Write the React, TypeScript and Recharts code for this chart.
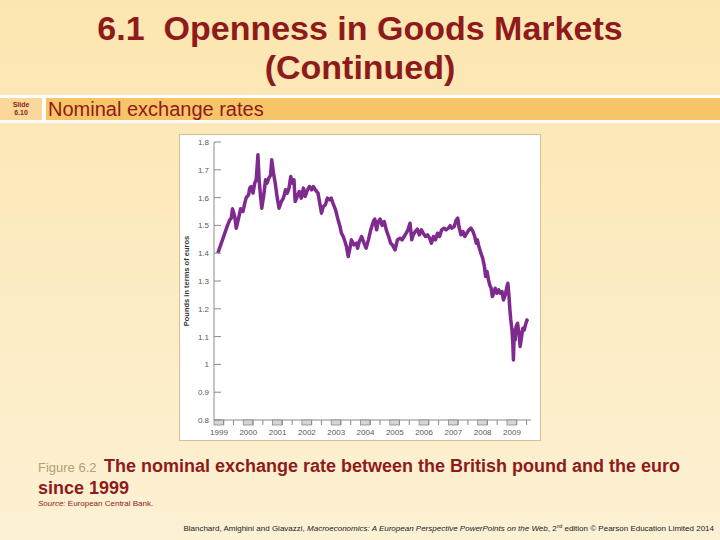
import { LineChart, Line, XAxis, YAxis } from 'recharts';

// Pounds in terms of euros (decimal year, rate)
const dates = [
  1999.13, 1999.25, 1999.37, 1999.46, 1999.54, 1999.59, 1999.63, 1999.71, 1999.76, 1999.84,
  1999.91, 1999.99, 2000.05, 2000.1, 2000.18, 2000.22, 2000.27, 2000.33, 2000.39, 2000.44,
  2000.5, 2000.54, 2000.59, 2000.63, 2000.7, 2000.76, 2000.81, 2000.87, 2000.93, 2000.97,
  2001.03, 2001.09, 2001.16, 2001.22, 2001.3, 2001.37, 2001.44, 2001.5, 2001.56, 2001.62,
  2001.67, 2001.73, 2001.77, 2001.84, 2001.91, 2001.98, 2002.05, 2002.11, 2002.19, 2002.26,
  2002.33, 2002.39, 2002.46, 2002.55, 2002.62, 2002.67, 2002.73, 2002.8, 2002.87, 2002.95,
  2003.0, 2003.06, 2003.15, 2003.22, 2003.3, 2003.35, 2003.41, 2003.47, 2003.52, 2003.58,
  2003.64, 2003.69, 2003.77, 2003.86, 2003.9, 2003.96, 2004.04, 2004.12, 2004.19, 2004.27,
  2004.35, 2004.44, 2004.49, 2004.55, 2004.61, 2004.67, 2004.74, 2004.81, 2004.88, 2004.96,
  2005.03, 2005.09, 2005.18, 2005.26, 2005.35, 2005.42, 2005.49, 2005.56, 2005.62, 2005.69,
  2005.75, 2005.8, 2005.87, 2005.94, 2006.01, 2006.08, 2006.14, 2006.22, 2006.29, 2006.36,
  2006.42, 2006.49, 2006.56, 2006.63, 2006.7, 2006.77, 2006.85, 2006.92, 2007.0, 2007.06,
  2007.12, 2007.2, 2007.27, 2007.32, 2007.36, 2007.43, 2007.5, 2007.56, 2007.63, 2007.7,
  2007.77, 2007.84, 2007.9, 2007.95, 2007.99, 2008.04, 2008.11, 2008.17, 2008.23, 2008.27,
  2008.32, 2008.37, 2008.41, 2008.46, 2008.5, 2008.55, 2008.6, 2008.66, 2008.72, 2008.77,
  2008.83, 2008.88, 2008.94, 2009.0, 2009.03, 2009.07, 2009.1, 2009.13, 2009.17, 2009.2,
  2009.22, 2009.25, 2009.28, 2009.31, 2009.36, 2009.41, 2009.45, 2009.5, 2009.54, 2009.59,
  2009.63, 2009.68, 2009.7,
];
const rates = [
  1.4, 1.436, 1.472, 1.5, 1.52, 1.526, 1.56, 1.53, 1.49, 1.526,
  1.56, 1.55, 1.58, 1.6, 1.61, 1.634, 1.64, 1.616, 1.652, 1.664,
  1.754, 1.664, 1.604, 1.562, 1.61, 1.664, 1.652, 1.67, 1.68, 1.736,
  1.688, 1.652, 1.598, 1.562, 1.586, 1.598, 1.628, 1.616, 1.634, 1.676,
  1.652, 1.664, 1.586, 1.604, 1.622, 1.598, 1.634, 1.604, 1.628, 1.64,
  1.628, 1.64, 1.628, 1.616, 1.574, 1.544, 1.568, 1.574, 1.598, 1.592,
  1.598, 1.58, 1.556, 1.526, 1.496, 1.472, 1.46, 1.442, 1.424, 1.388,
  1.418, 1.448, 1.43, 1.436, 1.418, 1.442, 1.46, 1.436, 1.418, 1.448,
  1.484, 1.514, 1.523, 1.484, 1.514, 1.523, 1.5, 1.514, 1.484, 1.46,
  1.436, 1.43, 1.412, 1.448, 1.454, 1.448, 1.46, 1.472, 1.484, 1.508,
  1.448, 1.466, 1.478, 1.487, 1.466, 1.484, 1.472, 1.46, 1.466, 1.454,
  1.436, 1.46, 1.448, 1.472, 1.46, 1.484, 1.49, 1.484, 1.49, 1.499,
  1.49, 1.496, 1.52, 1.526, 1.496, 1.466, 1.478, 1.46, 1.472, 1.484,
  1.49, 1.478, 1.46, 1.436, 1.448, 1.424, 1.4, 1.382, 1.352, 1.316,
  1.334, 1.304, 1.286, 1.274, 1.244, 1.256, 1.274, 1.256, 1.268, 1.256,
  1.262, 1.232, 1.25, 1.28, 1.292, 1.244, 1.196, 1.16, 1.124, 1.076,
  1.016, 1.124, 1.088, 1.136, 1.148, 1.112, 1.064, 1.1, 1.13, 1.124,
  1.142, 1.16, 1.154,
];

const yearTicks = [1999, 2000, 2001, 2002, 2003, 2004, 2005, 2006, 2007, 2008, 2009];
const rateTicks = [0.8, 0.9, 1, 1.1, 1.2, 1.3, 1.4, 1.5, 1.6, 1.7, 1.8];

const data = dates.map((t, i) => ({ t, rate: rates[i] }));
// a tick every third of a year, the first third of each year is shaded
const xTicks = yearTicks.flatMap((y) => [y, y + 1 / 3, y + 2 / 3]);

const RED = '#8e1a1c';
const AXIS = '#8a8a8a';
const FONT = '"Liberation Sans", Arial, sans-serif';

function YTick({ x, y, payload }: any) {
  const v = payload.value;
  return (
    <g>
      <line x1={x} x2={x + 7} y1={y} y2={y} stroke={AXIS} strokeWidth={1} />
      <text x={x - 5} y={y + 3} textAnchor="end" fontSize={8} fill="#5a5a5a" fontFamily={FONT}>
        {v === 1 ? '1' : v.toFixed(1)}
      </text>
    </g>
  );
}

function XTick({ x, y, payload }: any) {
  const v = payload.value;
  if (Number.isInteger(v)) {
    return (
      <g>
        <rect x={x} y={y} width={9.5} height={5} fill="#d6d6d6" stroke={AXIS} strokeWidth={0.8} />
        <text x={x + 5} y={y + 15} textAnchor="middle" fontSize={8} fill="#5a5a5a" fontFamily={FONT}>
          {v}
        </text>
      </g>
    );
  }
  return <line x1={x} x2={x} y1={y} y2={y + 5} stroke={AXIS} strokeWidth={1} />;
}

export default function App() {
  return (
    <div style={{ position: 'absolute', left: 0, top: 0, width: 720, height: 540, overflow: 'hidden' }}>
      <svg width={720} height={540} style={{ position: 'absolute', left: 0, top: 0 }}>
        <defs>
          <linearGradient id="bg" x1="0" y1="0" x2="0" y2="1">
            <stop offset="0" stopColor="#fce6b0" />
            <stop offset="1" stopColor="#fdf1d4" />
          </linearGradient>
        </defs>
        <rect x={0} y={0} width={720} height={540} fill="url(#bg)" />

        <text x={360} y={40} textAnchor="middle" fontSize={34} fontWeight="bold" fill={RED} fontFamily={FONT}>
          6.1{'\u00a0\u00a0'}Openness in Goods Markets
        </text>
        <text x={360} y={79} textAnchor="middle" fontSize={34} fontWeight="bold" fill={RED} fontFamily={FONT}>
          (Continued)
        </text>

        <rect x={0} y={95} width={720} height={28} fill="#ffffff" />
        <rect x={0} y={98} width={42} height={22} fill="#fbd89a" />
        <rect x={46} y={98} width={674} height={22} fill="#f8c468" />
        <text x={21} y={107} textAnchor="middle" fontSize={7} fontWeight="bold" fill={RED} fontFamily={FONT}>
          Slide
        </text>
        <text x={21} y={115} textAnchor="middle" fontSize={7} fontWeight="bold" fill={RED} fontFamily={FONT}>
          6.10
        </text>
        <text x={48} y={116} fontSize={20} fill={RED} fontFamily={FONT}>
          Nominal exchange rates
        </text>

        <rect x={179.5} y={134.5} width={361} height={306} fill="#ffffff" stroke="#d8bf92" />
        <text
          x={0}
          y={0}
          transform="translate(189 281) rotate(-90)"
          textAnchor="middle"
          fontSize={7.5}
          fontWeight="bold"
          fill="#333"
          fontFamily={FONT}
        >
          Pounds in terms of euros
        </text>

        <text x={38} y={472} fontSize={13} fill="#b39f72" fontFamily={FONT}>
          Figure 6.2
        </text>
        <text x={104} y={472} fontSize={18} fontWeight="bold" fill={RED} fontFamily={FONT}>
          The nominal exchange rate between the British pound and the euro
        </text>
        <text x={38} y={494} fontSize={18} fontWeight="bold" fill={RED} fontFamily={FONT}>
          since 1999
        </text>
        <text x={38} y={506} fontSize={8} fill={RED} fontFamily={FONT}>
          <tspan fontStyle="italic">Source:</tspan> European Central Bank.
        </text>
        <text x={714} y={531} textAnchor="end" fontSize={8} fill="#222" fontFamily={FONT}>
          Blanchard, Amighini and Giavazzi,{' '}
          <tspan fontStyle="italic">Macroeconomics: A European Perspective PowerPoints on the Web</tspan>, 2
          <tspan fontSize={5} dy={-3}>nd</tspan>
          <tspan dy={3}> edition © Pearson Education Limited 2014</tspan>
        </text>
      </svg>

      <div style={{ position: 'absolute', left: 179, top: 134 }}>
        <LineChart width={362} height={307} data={data} margin={{ top: 8, right: 10, bottom: 0, left: 0 }}>
          <XAxis
            type="number"
            dataKey="t"
            domain={[1999, 2009.82]}
            ticks={xTicks}
            interval={0}
            height={21}
            tickSize={0}
            tickMargin={0}
            axisLine={{ stroke: AXIS }}
            tickLine={false}
            tick={<XTick />}
          />
          <YAxis
            type="number"
            domain={[0.8, 1.8]}
            ticks={rateTicks}
            interval={0}
            width={35}
            tickSize={0}
            tickMargin={0}
            axisLine={{ stroke: AXIS }}
            tickLine={false}
            tick={<YTick />}
          />
          <Line
            type="linear"
            dataKey="rate"
            stroke="#7e2a8e"
            strokeWidth={3.5}
            strokeLinejoin="round"
            dot={false}
            isAnimationActive={false}
          />
        </LineChart>
      </div>
    </div>
  );
}
